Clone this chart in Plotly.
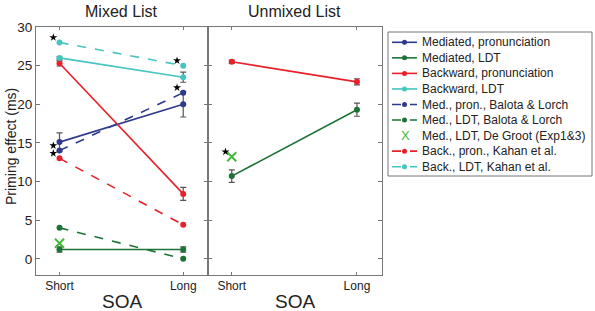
import plotly.graph_objects as go

soa = ["Short", "Long"]
soa_x = [0, 1]

# Mixed list (current study)
mixed_med_pron = [15.1, 20.0]
mixed_med_pron_err = [1.2, 1.65]
mixed_med_ldt = [1.2, 1.2]
mixed_med_ldt_err = [0.35, 0.35]
mixed_back_pron = [25.3, 8.4]
mixed_back_pron_err = [0.35, 0.85]
mixed_back_ldt = [26.0, 23.5]
mixed_back_ldt_err = [0.15, 0.65]

# Prior studies (mixed panel)
balota_med_pron = [14.0, 21.5]
balota_med_ldt = [4.0, 0.0]
kahan_back_pron = [13.0, 4.4]
kahan_back_ldt = [28.0, 25.0]
degroot_mixed = [2.0]

# Unmixed list
unmixed_back_pron = [25.5, 22.9]
unmixed_back_pron_err = [0.2, 0.4]
unmixed_med_ldt = [10.7, 19.3]
unmixed_med_ldt_err = [0.8, 0.85]
degroot_unmixed = [13.2]

y_ticks = [0, 5, 10, 15, 20, 25, 30]

legend_labels = [
    "Mediated, pronunciation", "Mediated, LDT", "Backward, pronunciation",
    "Backward, LDT", "Med., pron., Balota & Lorch", "Med., LDT, Balota & Lorch",
    "Med., LDT, De Groot (Exp1&3)", "Back., pron., Kahan et al.",
    "Back., LDT, Kahan et al.",
]

NAVY = "#2e3a8c"
GREEN = "#1d7336"
RED = "#e8202a"
CYAN = "#45c4c0"
XGREEN = "#44b83c"
FONT = "Arial, Liberation Sans, sans-serif"
legend_styles = [
    (NAVY, "solid"), (GREEN, "solid"), (RED, "solid"), (CYAN, "solid"),
    (NAVY, "dash"), (GREEN, "dash"), (XGREEN, None), (RED, "dash"), (CYAN, "dash"),
]

fig = go.Figure()


def series(name, y, color, dash, err=None, xa="x", ya="y"):
    kw = {}
    if err is not None:
        kw["error_y"] = dict(type="data", array=err, visible=True, color="#555555",
                             thickness=1.2, width=3)
    fig.add_trace(go.Scatter(
        x=soa_x, y=y, name=name, mode="lines+markers",
        line=dict(color=color, width=1.6, dash=dash),
        marker=dict(color=color, size=6, symbol="circle"),
        xaxis=xa, yaxis=ya, **kw))


def xmark(name, y, xa, ya):
    fig.add_trace(go.Scatter(
        x=[soa_x[0]], y=y, name=name, mode="markers",
        marker=dict(symbol="x-thin", size=9, line=dict(color=XGREEN, width=2),
                    color=XGREEN),
        xaxis=xa, yaxis=ya))


series(legend_labels[0], mixed_med_pron, NAVY, "solid", mixed_med_pron_err)
series(legend_labels[1], mixed_med_ldt, GREEN, "solid", mixed_med_ldt_err)
series(legend_labels[2], mixed_back_pron, RED, "solid", mixed_back_pron_err)
series(legend_labels[3], mixed_back_ldt, CYAN, "solid", mixed_back_ldt_err)
series(legend_labels[4], balota_med_pron, NAVY, "dash")
series(legend_labels[5], balota_med_ldt, GREEN, "dash")
xmark(legend_labels[6], degroot_mixed, "x", "y")
series(legend_labels[7], kahan_back_pron, RED, "dash")
series(legend_labels[8], kahan_back_ldt, CYAN, "dash")

# Unmixed panel
series(legend_labels[2], unmixed_back_pron, RED, "solid", unmixed_back_pron_err,
       xa="x2", ya="y2")
series(legend_labels[1], unmixed_med_ldt, GREEN, "solid", unmixed_med_ldt_err,
       xa="x2", ya="y2")
xmark(legend_labels[6], degroot_unmixed, "x2", "y2")

# Significance stars: at the significant data points, nudged up-left
star_dx, star_dy = -0.05, 0.65
stars = {
    ("x", "y"): [(0, kahan_back_ldt[0]), (1, kahan_back_ldt[1]),
                 (1, balota_med_pron[1]), (0, balota_med_pron[0]),
                 (0, kahan_back_pron[0])],
    ("x2", "y2"): [(0, degroot_unmixed[0])],
}
for (xa, ya), pts in stars.items():
    fig.add_trace(go.Scatter(
        x=[soa_x[i] + star_dx for i, _ in pts], y=[v + star_dy for _, v in pts],
        mode="markers", marker=dict(symbol="star", size=6, color="black"),
        xaxis=xa, yaxis=ya, hoverinfo="skip"))

# ---- layout geometry ----
W, H = 595, 311
ML, MT = 36, 27
MR, MB = W - 382, H - 275
PW, PH = W - ML - MR, H - MT - MB


def px(x):
    return (x - ML) / PW


def py(y):
    return (H - MB - y) / PH


annotations = [
    dict(text="Mixed List", x=0.5 * 0.497, y=py(11), xref="paper", yref="paper",
         xanchor="center", yanchor="middle", showarrow=False,
         font=dict(size=16, color="#222")),
    dict(text="Unmixed List", x=0.497 + 0.5 * 0.503, y=py(11), xref="paper",
         yref="paper", xanchor="center", yanchor="middle", showarrow=False,
         font=dict(size=16, color="#222")),
    dict(text="SOA", x=0.5 * 0.497, y=py(301), xref="paper", yref="paper",
         xanchor="center", yanchor="middle", showarrow=False,
         font=dict(size=19, color="#222")),
    dict(text="SOA", x=0.497 + 0.5 * 0.503, y=py(301), xref="paper", yref="paper",
         xanchor="center", yanchor="middle", showarrow=False,
         font=dict(size=19, color="#222")),
    dict(text="Priming effect (ms)", x=px(11), y=py(147), xref="paper", yref="paper",
         xanchor="center", yanchor="middle", showarrow=False, textangle=-90,
         font=dict(size=14, color="#222")),
]

# ---- custom legend (compact, as in the reference) ----
shapes = [dict(type="rect", xref="paper", yref="paper", x0=px(388), x1=px(592),
               y0=py(32), y1=py(176), line=dict(color="#777", width=1),
               fillcolor="white", layer="above")]
row0, row_h = 42.3, 15.55
for i, (label, (color, dash)) in enumerate(zip(legend_labels, legend_styles)):
    yy = row0 + i * row_h
    if dash is not None:
        shapes.append(dict(type="line", xref="paper", yref="paper",
                           x0=px(392), x1=px(417), y0=py(yy), y1=py(yy),
                           line=dict(color=color, width=1.6, dash=dash), layer="above"))
        shapes.append(dict(type="circle", xref="paper", yref="paper",
                           x0=px(402), x1=px(407), y0=py(yy + 2.5), y1=py(yy - 2.5),
                           fillcolor=color, line=dict(color=color, width=0),
                           layer="above"))
    else:
        annotations.append(dict(text="X", x=px(405), y=py(yy), xref="paper",
                                yref="paper", xanchor="center", yanchor="middle",
                                showarrow=False, font=dict(size=13, color=color)))
    annotations.append(dict(text=label, x=px(420), y=py(yy), xref="paper",
                            yref="paper", xanchor="left", yanchor="middle",
                            showarrow=False, font=dict(size=12, color="#222")))

axis_common = dict(showline=True, linecolor="#777", linewidth=1, mirror="ticks",
                   showgrid=False, zeroline=False, automargin=False)
xcommon = dict(axis_common, tickvals=soa_x, ticktext=soa, range=[-0.19, 1.2],
               ticks="inside", ticklen=3, tickcolor="#777",
               tickfont=dict(size=12, color="#222"))
ycommon = dict(axis_common, range=[-2.1, 30], tickvals=y_ticks, ticks="inside",
               ticklen=4, tickcolor="#777")

fig.update_layout(
    width=W, height=H,
    margin=dict(l=ML, r=MR, t=MT, b=MB),
    paper_bgcolor="white", plot_bgcolor="white",
    font=dict(family=FONT, color="#222"),
    xaxis=dict(xcommon, domain=[0, 0.497], anchor="y"),
    xaxis2=dict(xcommon, domain=[0.497, 1], anchor="y2"),
    yaxis=dict(ycommon, tickfont=dict(size=13.5, color="#222")),
    yaxis2=dict(ycommon, anchor="x2", showticklabels=False),
    annotations=annotations,
    shapes=shapes,
    showlegend=False,
)

fig.write_html("out.html",
               config={"displayModeBar": False},
               post_script="document.body.style.margin='0';"
                           "document.body.style.overflow='hidden';")
